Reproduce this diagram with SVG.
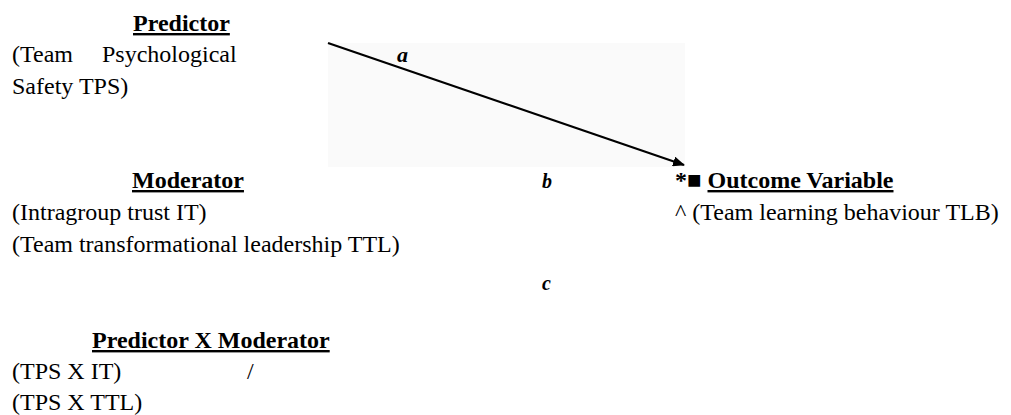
<svg xmlns="http://www.w3.org/2000/svg" width="1011" height="415" viewBox="0 0 1011 415" font-family="'Liberation Serif', 'Times New Roman', 'DejaVu Serif', serif">
<style>
text{font-family:'Liberation Serif','Times New Roman','DejaVu Serif',serif;font-size:24px;fill:#000}
.h{font-weight:bold;text-decoration:underline}
.lbl{font-style:italic;font-weight:bold;font-size:22px}
.lbli{font-style:italic;font-weight:bold;font-size:20px}
.conn{stroke:#000;stroke-width:2.2;fill:none}
</style>
<defs>
<marker id="arr" viewBox="0 0 12 10" refX="11" refY="5" markerWidth="12" markerHeight="10" markerUnits="userSpaceOnUse" orient="auto">
<path d="M0,0 L12,5 L0,10 Z" fill="#000"/>
</marker>
</defs>
<rect width="1011" height="415" fill="#fff"/>
<rect x="328" y="43" width="357" height="124" fill="#fafafa"/>
<g id="connectors">
<line class="conn" x1="328" y1="43" x2="684" y2="165" marker-end="url(#arr)"/>
<text class="lbl" x="397" y="62">a</text>
<text class="lbli" x="542" y="188">b</text>
<text class="lbli" x="542" y="290">c</text>
<text x="247" y="379">/</text>
</g>
<g id="predictor">
<text class="h" x="133" y="31">Predictor</text>
<text y="62"><tspan x="12">(Team</tspan><tspan x="102">Psychological</tspan></text>
<text x="12" y="94">Safety TPS)</text>
</g>
<g id="moderator">
<text class="h" x="132" y="188">Moderator</text>
<text x="12" y="220">(Intragroup trust IT)</text>
<text x="12" y="252">(Team transformational leadership TTL)</text>
</g>
<g id="interaction">
<text class="h" x="92" y="348">Predictor X Moderator</text>
<text x="12" y="379">(TPS X IT)</text>
<text x="12" y="410">(TPS X TTL)</text>
</g>
<g id="outcome">
<text x="675" y="188"><tspan font-weight="bold">*■ </tspan><tspan class="h">Outcome Variable</tspan></text>
<text x="675" y="220">^ (Team learning behaviour TLB)</text>
</g>
</svg>
